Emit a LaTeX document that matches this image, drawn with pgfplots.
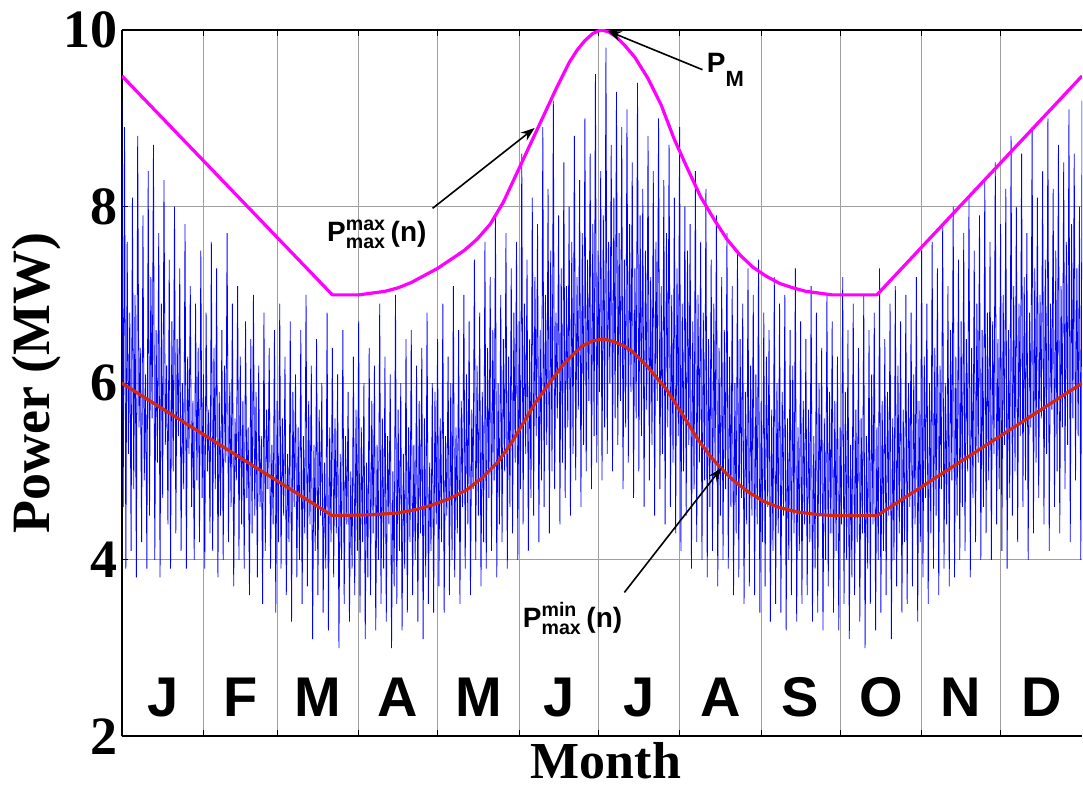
\documentclass[border=0pt]{standalone}
\usepackage{amsmath}
\usepackage{fontspec}
\setmainfont{Liberation Serif}
\newfontfamily\arialfont{Liberation Sans}
\usepackage{pgfplots}
\pgfplotsset{compat=1.18}
\usepackage{pgfplotstable}
\usetikzlibrary{arrows.meta}
\definecolor{magc}{RGB}{255,0,255}
\definecolor{redc}{RGB}{212,40,8}
\definecolor{bluec}{RGB}{0,0,255}

\pgfplotstableread[header=false]{
9.2
4.6
8.9
3.9
7.6
5.2
6.8
4.1
8.1
4.8
7.0
3.8
8.8
5.5
6.4
4.2
7.9
4.9
6.1
3.9
8.4
4.5
7.2
5.6
8.7
4.0
6.6
5.1
7.7
3.8
6.9
4.7
8.3
5.3
6.2
4.4
7.4
3.9
6.7
5.0
8.0
4.3
6.5
5.4
7.3
4.1
6.0
4.8
7.8
3.9
6.3
5.2
7.1
4.6
5.8
4.0
6.9
4.9
6.4
4.2
7.5
4.7
6.1
3.9
6.8
5.0
5.7
4.3
7.6
4.1
6.4
4.8
7.3
3.8
5.9
4.5
6.6
4.0
6.2
5.1
7.7
4.2
6.0
4.6
6.9
3.7
5.6
4.9
7.1
4.0
6.3
4.4
5.8
3.9
6.7
4.7
5.5
3.6
6.5
4.3
7.0
4.5
5.9
3.8
6.2
4.6
5.4
3.5
6.8
4.1
5.7
4.8
6.4
3.9
5.3
4.4
6.6
3.4
5.8
4.2
6.9
3.9
5.6
4.5
6.3
3.6
5.2
4.2
6.7
3.3
5.9
4.6
6.1
3.8
5.5
4.0
6.6
3.5
5.4
4.3
7.0
3.7
5.8
4.4
6.2
3.1
5.3
4.1
6.5
3.6
5.7
4.5
6.0
3.4
5.1
3.9
6.8
3.2
5.5
4.2
6.4
3.8
5.6
4.3
6.1
3.0
5.2
4.0
6.6
3.5
5.4
4.4
5.9
3.3
5.0
3.9
6.3
3.6
5.7
4.1
6.7
3.4
5.5
4.2
6.0
3.1
5.1
3.8
6.4
3.6
5.8
4.3
6.2
3.2
5.3
4.0
6.9
3.5
5.6
3.9
6.3
3.3
5.4
4.4
6.1
3.0
5.0
3.7
7.0
3.5
5.7
4.1
6.0
3.2
5.2
3.9
6.5
3.4
5.5
4.2
6.6
3.6
5.3
4.0
6.2
3.3
5.8
4.3
6.4
3.1
5.6
3.8
6.8
3.5
5.1
4.1
6.0
3.4
5.9
4.4
6.5
3.7
5.6
4.2
6.9
3.4
5.4
4.5
6.3
3.6
6.0
4.0
7.1
3.8
5.5
4.3
6.6
3.5
5.8
4.6
7.0
3.9
6.1
4.4
6.7
3.6
5.7
4.8
7.4
4.0
6.2
4.5
6.8
3.7
5.9
4.2
7.6
3.9
6.4
4.7
7.2
4.1
6.6
4.9
7.9
3.8
6.0
4.4
7.0
4.2
6.5
5.0
7.7
3.9
6.3
4.6
7.3
4.3
6.8
5.1
7.6
4.0
6.7
4.8
8.6
4.4
6.9
5.2
7.4
4.1
6.5
4.7
8.1
4.5
7.2
5.4
7.8
4.2
6.6
4.9
8.9
4.6
7.0
5.3
8.2
4.3
7.5
5.0
9.2
4.8
6.8
5.6
7.9
4.4
7.3
5.1
8.5
4.7
7.1
5.5
8.0
4.5
7.6
5.2
8.8
4.9
7.2
5.7
8.3
4.6
7.7
5.3
9.0
5.0
7.4
5.8
8.6
4.8
7.8
5.4
9.5
5.1
7.5
5.9
8.4
4.9
7.9
5.5
9.8
5.2
7.6
6.0
8.7
5.0
8.1
5.6
9.3
5.3
7.7
5.8
8.9
4.8
7.4
5.5
9.1
5.1
7.8
5.9
8.5
4.7
7.3
5.6
9.4
5.0
7.9
5.4
8.2
4.6
7.5
5.7
8.8
4.9
7.2
5.3
8.4
4.5
7.6
5.8
9.0
4.8
7.1
5.2
8.3
4.4
7.7
5.5
8.7
4.6
7.0
5.1
8.1
4.3
7.3
5.4
8.9
4.1
6.9
5.0
8.0
4.5
7.5
5.3
7.8
3.9
6.7
4.8
8.4
4.2
7.0
5.1
7.6
4.0
6.8
4.9
8.2
3.8
6.5
4.6
7.4
4.1
6.9
5.0
7.9
3.7
6.4
4.5
7.2
4.0
6.6
4.8
7.7
3.9
6.3
4.6
7.1
3.6
6.0
4.3
7.5
3.8
6.5
4.7
6.9
3.5
5.9
4.4
7.3
3.7
6.2
4.5
7.0
3.6
6.1
4.4
7.4
3.4
5.8
4.2
6.8
3.7
6.3
4.6
6.6
3.3
5.7
4.1
7.2
3.5
6.0
4.3
6.9
3.4
5.9
4.5
7.0
3.2
5.6
4.0
6.6
3.6
6.2
4.3
7.3
3.3
5.5
4.1
6.7
3.5
5.8
4.4
6.5
3.6
5.7
4.2
7.1
3.3
5.4
3.9
6.8
3.4
6.0
4.5
6.4
3.2
5.6
4.0
7.0
3.7
5.9
4.3
6.7
3.4
5.8
4.1
6.3
3.2
5.5
4.4
7.2
3.5
5.9
4.0
6.6
3.1
5.3
3.8
6.9
3.6
5.7
4.2
6.4
3.3
5.6
4.3
7.0
3.0
5.4
3.9
6.6
3.5
6.1
4.4
6.8
3.2
5.5
4.0
7.3
3.4
5.8
4.1
6.5
3.6
5.9
4.5
6.9
3.1
5.6
4.0
7.1
3.7
6.2
4.3
6.7
3.4
5.7
4.2
7.0
3.5
6.0
4.6
6.8
3.7
6.1
4.4
7.2
3.3
5.8
4.2
7.5
3.8
6.3
4.7
6.9
3.5
6.0
4.3
7.6
3.9
6.4
4.5
7.3
3.6
6.2
4.8
7.8
3.9
6.0
4.4
7.1
3.7
6.6
4.9
8.0
3.8
6.3
4.5
7.4
4.0
6.7
4.6
7.7
4.1
6.5
5.0
8.1
3.8
6.4
4.7
7.5
4.2
6.9
5.1
7.9
4.0
6.6
4.6
8.3
4.3
6.8
4.9
7.6
4.0
6.7
5.2
8.5
4.4
6.5
4.8
7.8
4.1
7.0
5.3
8.2
3.9
6.6
4.7
8.8
4.5
7.1
5.0
8.0
4.2
6.9
5.4
8.6
4.6
7.2
4.9
7.7
4.0
6.8
5.5
8.9
4.3
7.3
5.1
8.1
4.7
7.0
5.6
8.4
4.4
7.4
5.2
9.0
4.1
6.9
5.7
8.2
4.6
7.5
5.0
8.7
4.3
7.1
5.5
8.5
4.8
7.6
5.3
9.1
4.2
7.8
5.6
8.6
4.9
7.3
5.4
8.0
4.0
9.2
}\bluedata

\begin{document}
\begin{tikzpicture}
\begin{axis}[
  scale only axis,
  width=480.5pt, height=353.5pt,
  xmin=0, xmax=365, ymin=2, ymax=10,
  axis x line=box, axis y line=left,
  axis line style={-, line width=0.9pt, black},
  tick align=inside,
  major tick length=3pt,
  tick style={black, line width=0.5pt},
  xtick={0,31,59,90,120,151,181,212,243,273,304,334},
  xticklabels={},
  ytick={2,4,6,8,10},
  yticklabels={2,4,6,8,10},
  yticklabel style={font=\fontsize{27}{27}\selectfont\bfseries, inner sep=0pt, xshift=-2pt},
  grid=major,
  grid style={gray!75, line width=0.45pt},
  xlabel={Month},
  ylabel={Power (MW)},
  xlabel style={font=\fontsize{26}{26}\selectfont\bfseries, at={(axis description cs:0.504,-0.060)}, anchor=base, inner sep=0pt},
  ylabel style={font=\fontsize{27}{27}\selectfont\bfseries, at={(axis description cs:-0.075,0.5)}, anchor=base, inner sep=0pt},
]
\addplot[bluec, line width=0.4pt] table[x expr=\coordindex*0.5, y index=0] {\bluedata};

\addplot[magc, line width=1.6pt, line join=round] coordinates {
(0,9.48) (80,7.0) (90,7.0) (95,7.02) (100,7.04) (105,7.08) (110,7.14) (115,7.22) (120,7.30)
(125,7.40) (130,7.50) (135,7.63) (140,7.80) (145,8.05) (150,8.37) (155,8.69) (160,9.01)
(165,9.33) (170,9.63) (173,9.77) (176,9.88) (179,9.96) (182,10.0) (185,9.98) (188,9.92)
(191,9.83) (195,9.69) (200,9.45) (205,9.15) (210,8.76) (215,8.43) (220,8.11) (225,7.86)
(230,7.63) (235,7.45) (240,7.31) (245,7.21) (250,7.13) (255,7.08) (260,7.04) (265,7.02)
(270,7.0) (287,7.0) (365,9.48)
};

\addplot[redc, line width=1.6pt, line join=round] coordinates {
(0,6.0) (80,4.5) (95,4.51) (105,4.53) (112,4.57) (118,4.62) (125,4.70) (131,4.79) (137,4.93)
(143,5.11) (148,5.32) (152,5.52) (157,5.77) (162,5.98) (168,6.22) (172,6.34) (175,6.42) (179,6.48)
(183,6.50) (187,6.47) (191,6.42) (194,6.36) (200,6.18) (207,5.93) (213,5.65) (219,5.36) (224,5.16)
(228,5.03) (232,4.91) (238,4.77) (244,4.66) (250,4.59) (257,4.54) (265,4.51) (272,4.50)
(287,4.50) (365,6.0)
};

% month letters
\foreach \d/\m in {15.5/J,45/F,74.5/M,105/A,135.5/M,166/J,196.5/J,227.5/A,258/S,288.5/O,319/N,349.5/D}{
  \edef\temp{\noexpand\node[font=\noexpand\fontsize{28}{28}\noexpand\selectfont\noexpand\arialfont\noexpand\bfseries, anchor=base, inner sep=0pt] at (axis cs:\d,2.22) {\m};}
  \temp
}

% annotations
\draw[black, line width=0.8pt, -{Stealth[length=7pt,width=5pt]}] (axis cs:220.7,9.55) -- (axis cs:184.6,9.99);
\node[font=\fontsize{14}{14}\selectfont\arialfont\bfseries, anchor=base west, inner sep=0pt] at (axis cs:222.2,9.52) {P\raisebox{-7pt}{\fontsize{11}{11}\selectfont M}};

\draw[black, line width=0.8pt, -{Stealth[length=7pt,width=5pt]}] (axis cs:118.1,7.98) -- (axis cs:156.9,8.89);
\node[font=\fontsize{14}{14}\selectfont\arialfont\bfseries, anchor=base west, inner sep=0pt] at (axis cs:77.9,7.60) {$\text{P}^{\text{max}}_{\text{max}}$\,(n)};

\draw[black, line width=0.8pt, -{Stealth[length=7pt,width=5pt]}] (axis cs:191.0,3.63) -- (axis cs:227.9,5.04);
\node[font=\fontsize{14}{14}\selectfont\arialfont\bfseries, anchor=base west, inner sep=0pt] at (axis cs:152.3,3.23) {$\text{P}^{\text{min}}_{\text{max}}$\,(n)};
\end{axis}
\path ([xshift=-61pt,yshift=-28pt]current axis.south west) rectangle ([yshift=15pt]current axis.north east);
\end{tikzpicture}
\end{document}
